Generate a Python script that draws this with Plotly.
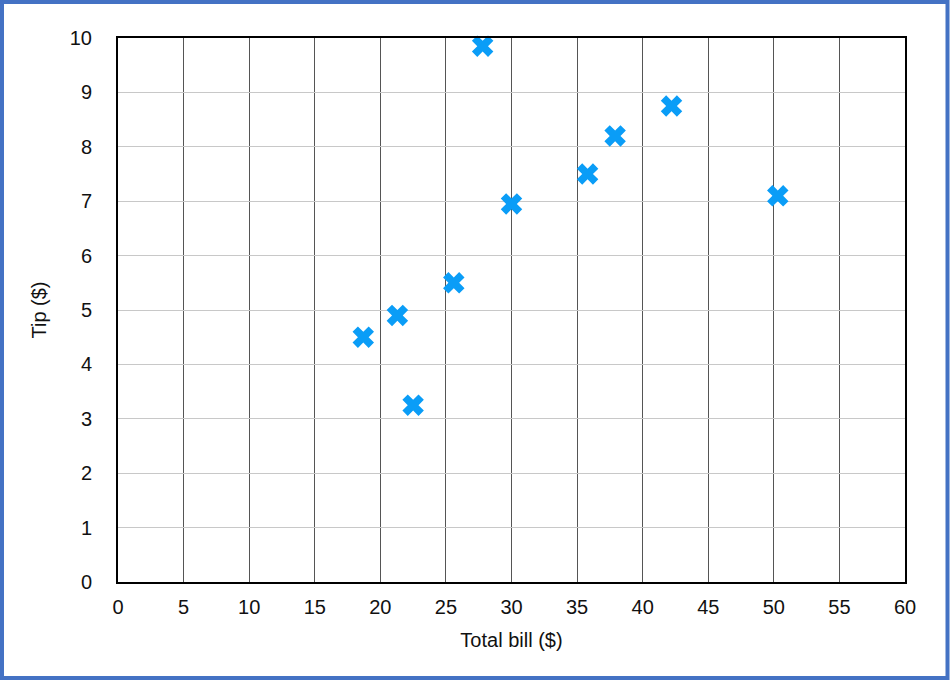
import plotly.graph_objects as go

total_bill = [18.7, 21.3, 22.5, 25.6, 27.8, 30.0, 35.8, 37.9, 42.2, 50.3]
tip = [4.50, 4.90, 3.25, 5.50, 9.85, 6.95, 7.50, 8.20, 8.75, 7.10]
x_ticks = list(range(0, 61, 5))
y_ticks = list(range(0, 11))

W, H = 950, 681
L, R, T, B = 118, 45, 38, 99
pw, ph = W - L - R, H - T - B

fig = go.Figure()
fig.add_trace(go.Scatter(
    x=total_bill, y=tip, mode="markers",
    marker=dict(symbol="x", size=19, color="#0A9DF7", line=dict(width=0)),
    cliponaxis=False, showlegend=False))

font = dict(family="Liberation Sans, Arial, sans-serif", size=20, color="#111")
fig.update_layout(
    width=W, height=H, margin=dict(l=L, r=R, t=T, b=B),
    paper_bgcolor="white", plot_bgcolor="white", font=font,
    xaxis=dict(range=[0, 60], tickvals=x_ticks, showgrid=True, gridcolor="#555",
               gridwidth=1, showline=True, linecolor="black", linewidth=2, mirror=True,
               zeroline=False, ticks="", ticklabelstandoff=6,
               title=dict(text="Total bill ($)", standoff=16, font=dict(size=20))),
    yaxis=dict(range=[0, 10], tickvals=y_ticks, showgrid=True, gridcolor="#c8c8c8",
               gridwidth=1, showline=True, linecolor="black", linewidth=2, mirror=True,
               zeroline=False, ticks="", ticklabelstandoff=20,
               title=dict(text="Tip ($)", standoff=18, font=dict(size=20))),
)
# outer blue frame
fig.add_shape(type="rect", xref="paper", yref="paper",
              x0=(2 - L) / pw, x1=(947.5 - L) / pw,
              y0=(H - B - 678) / ph, y1=(H - B - 2) / ph,
              line=dict(color="#4472C4", width=4), fillcolor="rgba(0,0,0,0)", layer="above")
fig.write_html("out.html")
